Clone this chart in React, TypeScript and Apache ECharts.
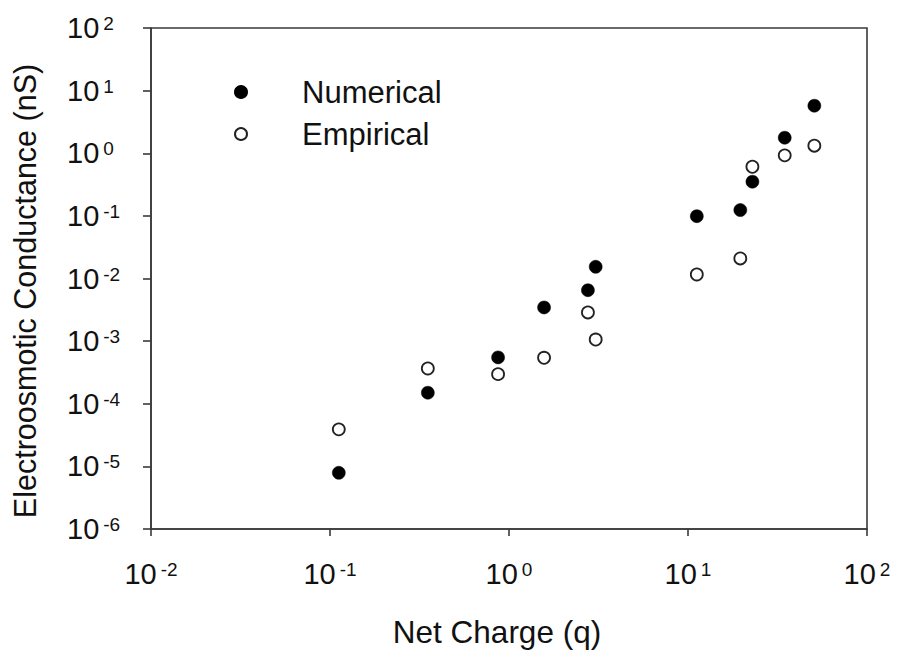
import React, { useEffect, useRef } from "react";
import * as echarts from "echarts";

// Net charge (q), shared by both series
const netCharge = [0.112, 0.352, 0.869, 1.57, 2.76, 3.05, 11.2, 19.6, 22.9, 34.7, 50.8];
// Electroosmotic conductance (nS)
const numerical = [7.9e-6, 1.5e-4, 5.5e-4, 3.45e-3, 6.5e-3, 0.0154, 0.099, 0.124, 0.351, 1.77, 5.74];
const empirical = [3.9e-5, 3.66e-4, 2.97e-4, 5.42e-4, 2.87e-3, 1.06e-3, 0.0116, 0.0209, 0.609, 0.925, 1.32];

const seriesNames = ["Numerical", "Empirical"];
const xTitle = "Net Charge (q)";
const yTitle = "Electroosmotic Conductance (nS)";

const FONT = "'Liberation Sans', Arial, sans-serif";
const AXIS_COLOR = "#3a3a3a";

const powLabel = (v: number) => {
  const e = Math.round(Math.log10(v));
  return `{b|10}{s|${e}}`;
};

const richLabel = {
  b: { fontSize: 29, fontFamily: FONT, color: "#111", lineHeight: 32, verticalAlign: "middle" },
  s: { fontSize: 19, fontFamily: FONT, color: "#111", verticalAlign: "top", padding: [2, 0, 0, 4] },
};

export default function App() {
  const ref = useRef<HTMLDivElement>(null);
  useEffect(() => {
    if (!ref.current) return;
    const chart = echarts.init(ref.current, undefined, { renderer: "svg" });
    chart.setOption({
      animation: false,
      backgroundColor: "#fff",
      grid: {
        left: 151,
        top: 28,
        width: 716,
        height: 501,
        show: true,
        borderColor: AXIS_COLOR,
        borderWidth: 1.6,
        backgroundColor: "transparent",
      },
      xAxis: {
        type: "log",
        logBase: 10,
        min: 0.01,
        max: 100,
        interval: 1,
        axisLine: { show: true, lineStyle: { color: AXIS_COLOR, width: 1.6 } },
        axisTick: { show: true, inside: false, length: 7, lineStyle: { color: AXIS_COLOR, width: 1.6 } },
        minorTick: { show: false },
        splitLine: { show: false },
        axisLabel: {
          margin: 29,
          formatter: powLabel,
          rich: richLabel,
        },
      },
      yAxis: {
        type: "log",
        logBase: 10,
        min: 1e-6,
        max: 100,
        interval: 1,
        axisLine: { show: true, lineStyle: { color: AXIS_COLOR, width: 1.6 } },
        axisTick: { show: true, inside: false, length: 8, lineStyle: { color: AXIS_COLOR, width: 1.6 } },
        minorTick: { show: false },
        splitLine: { show: false },
        axisLabel: {
          margin: 84,
          align: "left",
          formatter: powLabel,
          rich: richLabel,
        },
      },
      legend: {
        orient: "vertical",
        left: 234,
        top: 76,
        padding: 0,
        itemWidth: 12,
        itemHeight: 12,
        itemGap: 10,
        icon: "circle",
        data: seriesNames,
        textStyle: {
          fontSize: 31,
          fontFamily: FONT,
          color: "#111",
          lineHeight: 32,
          padding: [0, 0, 0, 50],
        },
      },
      graphic: [
        {
          type: "text",
          x: 497,
          y: 632,
          style: {
            text: xTitle,
            fontSize: 31.5,
            fontFamily: FONT,
            fill: "#111",
            align: "center",
            verticalAlign: "middle",
          },
        },
        {
          type: "text",
          x: 25,
          y: 291,
          rotation: Math.PI / 2,
          style: {
            text: yTitle,
            fontSize: 30.5,
            fontFamily: FONT,
            fill: "#111",
            align: "center",
            verticalAlign: "middle",
          },
        },
      ],
      series: [
        {
          name: seriesNames[0],
          type: "scatter",
          symbol: "circle",
          symbolSize: 13,
          itemStyle: { color: "#000", borderColor: "#000", borderWidth: 0.5, opacity: 1 },
          data: netCharge.map((x, i) => [x, numerical[i]]),
        },
        {
          name: seriesNames[1],
          type: "scatter",
          symbol: "circle",
          symbolSize: 12,
          itemStyle: { color: "#fff", borderColor: "#222", borderWidth: 1.8, opacity: 1 },
          data: netCharge.map((x, i) => [x, empirical[i]]),
        },
      ],
    });
    return () => chart.dispose();
  }, []);
  return (
    <div
      ref={ref}
      style={{ position: "fixed", left: 0, top: 0, width: 897, height: 650, background: "#fff" }}
    />
  );
}
